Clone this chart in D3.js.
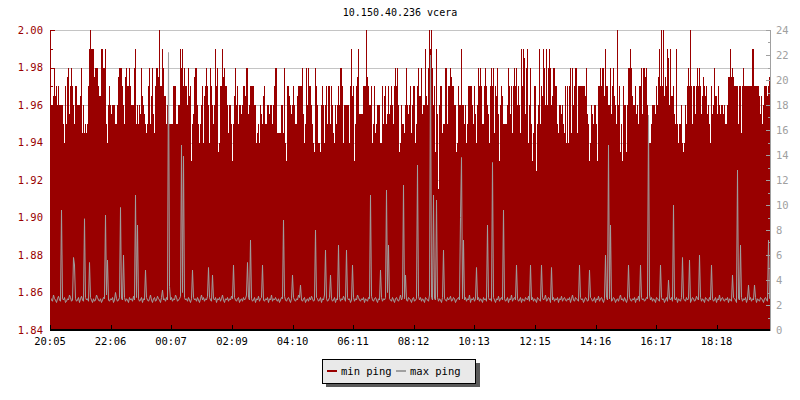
<!DOCTYPE html>
<html>
<head>
<meta charset="utf-8">
<script src="https://cdn.jsdelivr.net/npm/d3@7"></script>
<style>
  body { margin: 0; background: #fff; }
  svg { display: block; font-family: "DejaVu Sans Mono", monospace; }
</style>
</head>
<body>
<svg id="plot"></svg>
<script>
// chart text
const title = "10.150.40.236 vcera";
const seriesNames = ["min ping", "max ping"];

// x axis: minutes after 20:05, one sample every 2 minutes
const tickLabels = ["20:05", "22:06", "00:07", "02:09", "04:10", "06:11", "08:12", "10:13", "12:15", "14:16", "16:17", "18:18"];
const tickMinutes = [0, 121, 242, 364, 485, 606, 727, 848, 970, 1091, 1212, 1333];
const stepMinutes = 2;
const spanMinutes = 1440;

// left axis (min ping) and right axis (max ping) ticks
const leftTicks = [1.84, 1.86, 1.88, 1.9, 1.92, 1.94, 1.96, 1.98, 2.0];
const leftMinorTicks = [1.85, 1.87, 1.89, 1.91, 1.93, 1.95, 1.97, 1.99];
const rightTicks = [0, 2, 4, 6, 8, 10, 12, 14, 16, 18, 20, 22, 24];
const rightMinorTicks = [1, 3, 5, 7, 9, 11, 13, 15, 17, 19, 21, 23];

// min ping (left axis)
const minPing = [
  1.96,1.96,1.96,1.965,1.98,1.965,1.97,1.96,1.97,1.96,1.96,1.96,1.96,1.95,1.94,1.97,1.95,1.975,1.98,1.955,
  1.97,1.98,1.97,1.96,1.95,1.97,1.97,1.96,1.96,1.96,1.965,1.98,1.945,1.96,1.945,1.95,1.945,1.95,1.97,1.99,
  2.00,1.99,1.99,1.99,1.975,1.98,1.98,1.98,1.97,1.965,1.965,1.99,1.99,1.98,1.98,1.99,1.95,1.94,1.96,1.97,
  1.96,1.955,1.96,1.96,1.96,1.95,1.95,1.96,1.975,1.98,1.98,1.98,1.97,1.96,1.95,1.975,1.98,1.97,1.97,1.98,
  1.97,1.96,1.96,1.96,1.98,1.99,1.95,1.96,1.95,1.96,1.955,1.98,1.965,1.96,1.955,1.95,1.945,1.95,1.97,1.98,
  1.95,1.965,1.98,1.955,1.945,1.97,1.98,1.98,1.975,2.00,1.97,1.97,1.99,1.98,1.965,1.965,1.95,1.96,1.95,1.95,
  1.95,1.95,1.95,1.97,1.97,1.97,1.95,1.95,1.96,1.96,1.99,1.98,1.99,1.97,1.98,1.97,1.97,1.96,1.98,1.965,
  1.97,1.93,1.95,1.955,1.975,1.98,1.98,1.96,1.95,1.94,1.95,1.96,1.97,1.94,1.965,1.97,1.98,1.97,1.96,1.94,
  1.98,1.97,1.96,1.95,1.96,1.99,1.97,1.98,1.935,1.94,1.97,1.97,1.99,1.975,1.98,1.97,1.97,1.96,1.945,1.96,
  1.96,1.95,1.93,1.95,1.965,1.98,1.96,1.97,1.95,1.96,1.96,1.955,1.96,1.97,1.97,1.965,1.98,1.98,1.955,1.96,
  1.97,1.97,1.97,1.97,1.96,1.96,1.94,1.945,1.95,1.94,1.96,1.955,1.95,1.965,1.97,1.95,1.95,1.96,1.96,1.955,
  1.96,1.96,1.95,1.96,1.97,1.98,1.98,1.945,1.945,1.945,1.945,1.96,1.96,1.945,1.98,1.94,1.93,1.97,
  1.97,1.965,1.96,1.955,1.96,1.97,1.96,1.95,1.95,1.965,1.97,1.97,1.97,1.97,1.98,1.955,1.94,1.95,1.98,1.96,
  1.98,1.97,1.97,1.96,1.95,1.94,1.935,1.98,1.97,1.96,1.94,1.94,1.935,1.96,1.97,1.96,1.94,1.96,1.97,1.95,
  1.97,1.97,1.95,1.97,1.96,1.945,1.94,1.96,1.95,1.96,1.97,1.96,1.98,1.98,1.97,1.94,1.96,1.96,1.96,1.96,
  1.96,1.94,1.97,1.99,1.965,1.97,1.93,1.95,1.97,1.975,1.99,1.955,1.955,1.955,1.955,1.97,1.97,1.97,2.00,1.975,
  1.97,1.96,1.96,1.97,1.94,1.95,1.97,1.945,1.95,1.96,1.96,1.96,1.94,1.94,1.97,1.95,1.965,1.97,1.95,1.955,
  1.97,1.955,1.96,1.97,1.96,1.95,1.97,1.98,1.97,1.98,1.96,1.935,1.94,1.96,1.95,1.95,1.945,1.96,1.98,1.96,
  1.955,1.96,1.97,1.945,1.96,1.97,1.97,1.94,1.95,1.97,1.98,1.965,1.965,1.98,1.955,1.96,1.96,1.99,1.965,1.96,
  1.98,2.00,1.99,2.00,1.98,1.96,1.97,1.935,1.99,1.955,1.915,1.96,1.97,1.97,1.945,1.95,1.95,1.98,1.98,1.95,
  1.97,1.97,1.98,1.975,1.97,1.97,1.96,1.96,1.935,1.94,1.97,1.96,1.96,1.99,1.96,1.96,1.95,1.96,1.94,1.95,
  1.97,1.97,1.97,1.97,1.96,1.95,1.97,1.955,1.94,1.96,1.98,1.97,1.98,1.97,1.95,1.95,1.97,1.98,1.97,1.96,
  1.955,1.94,1.97,1.98,1.97,1.98,1.945,1.97,1.965,1.98,1.955,1.93,1.96,1.97,1.965,1.95,1.95,1.95,1.95,1.96,
  1.98,1.97,1.955,1.97,1.945,1.97,1.98,1.97,1.98,1.96,1.97,1.96,1.945,1.99,1.97,1.99,1.985,1.955,1.98,1.99,1.94,1.96,
  1.98,1.95,1.93,1.945,1.97,1.97,1.925,1.95,1.96,1.99,1.95,1.97,1.965,1.99,1.98,1.96,1.99,1.96,1.98,1.99,
  1.98,1.96,1.965,1.98,1.98,1.97,1.97,1.95,1.945,1.96,1.96,1.955,1.96,1.95,1.945,1.97,1.94,1.97,1.94,1.97,
  1.98,1.945,1.98,1.96,1.97,1.98,1.98,1.945,1.97,1.97,1.97,1.97,1.97,1.97,1.97,1.965,1.98,1.955,1.95,1.93,
  1.94,1.96,1.955,1.95,1.96,1.96,1.95,1.93,1.97,1.97,1.98,1.97,1.98,1.98,1.965,1.99,1.97,1.97,1.96,1.96,
  1.98,1.955,1.97,1.98,1.965,1.96,1.95,2.00,1.96,1.97,1.935,1.95,1.93,1.97,1.96,1.96,1.935,1.96,1.98,1.98,
  1.99,1.98,1.965,1.96,1.96,1.97,1.955,1.96,1.95,1.97,1.97,1.98,1.955,1.98,1.98,1.975,1.98,1.96,1.94,1.94,
  1.94,1.95,1.96,1.96,1.96,1.955,1.97,1.96,1.975,1.99,1.97,2.00,1.97,2.00,1.965,1.975,1.97,1.99,1.985,1.96,
  1.99,1.965,1.965,1.97,1.955,1.95,1.99,1.95,1.94,1.95,1.95,1.96,1.94,1.935,1.94,1.96,1.95,1.97,1.98,1.97,
  2.00,1.97,1.95,1.97,1.97,1.955,1.97,1.98,1.97,1.98,1.97,1.955,1.965,1.975,1.97,1.965,1.97,1.955,1.96,1.95,
  1.94,1.97,1.955,1.96,1.98,1.965,1.965,1.955,1.97,1.96,1.955,1.96,1.96,1.955,1.96,1.95,1.95,1.96,1.975,1.975,
  1.99,1.975,1.98,1.975,1.97,1.97,1.97,1.97,1.95,1.97,1.97,1.945,1.97,1.98,1.97,1.97,1.97,1.97,1.97,1.97,
  1.97,1.97,1.99,1.99,1.97,1.97,1.97,1.97,1.97,1.965,1.955,1.965,1.95,1.96,1.97,1.97,1.97,1.965,1.97,1.975
];

// max ping (right axis)
const maxPing = [
  2.6,2.4,2.3,2.8,2.5,2.4,2.2,2.5,2.7,2.4,2.3,9.6,2.5,2.4,2.6,2.2,2.3,2.5,2.4,2.8,2.6,2.3,2.4,5.8,
  5.2,2.5,2.3,2.4,2.6,2.2,2.5,2.7,2.4,2.3,8.9,2.6,2.4,2.5,2.3,5.4,2.6,2.4,2.2,2.5,2.3,2.4,2.8,2.6,
  2.4,2.3,2.5,2.2,2.4,2.6,2.5,9.2,2.8,5.6,2.4,2.3,2.5,2.4,2.6,2.2,2.4,3.0,2.5,2.3,2.4,2.6,9.8,2.5,
  2.4,6.0,2.6,2.3,2.5,2.4,2.2,2.6,2.4,2.5,2.3,2.7,2.4,10.8,2.6,8.4,2.5,2.3,2.4,2.6,2.2,2.5,2.4,4.8,
  2.6,2.4,2.3,2.5,2.8,2.4,2.2,2.5,2.6,2.3,2.4,2.7,2.5,2.4,2.2,2.6,3.2,2.4,2.5,2.3,2.6,2.4,22.2,3.5,
  2.4,2.6,2.3,2.5,2.4,2.8,2.6,2.3,2.4,2.5,2.7,14.8,3.0,13.9,2.6,2.4,2.5,2.3,2.6,2.4,2.2,2.5,4.8,2.6,
  2.4,2.5,2.3,2.6,2.4,2.2,2.5,2.8,2.4,2.6,2.3,2.5,2.4,2.7,5.0,2.6,2.4,2.3,4.4,2.5,2.4,2.6,2.2,2.5,
  2.4,2.6,2.3,2.5,2.8,2.4,2.2,2.5,2.4,2.6,2.3,2.5,2.4,2.7,2.5,5.2,2.6,2.4,2.3,2.5,2.6,2.2,2.4,2.5,
  2.3,2.6,2.4,2.5,2.8,5.4,2.6,2.4,7.2,2.5,2.3,2.4,2.6,2.2,2.5,2.4,2.7,2.3,2.5,2.6,5.2,2.4,2.3,2.5,
  2.4,2.6,2.2,2.5,2.4,2.8,2.3,2.5,2.4,2.6,2.4,2.3,2.5,2.2,2.4,2.6,2.5,8.8,2.7,2.4,2.3,2.5,2.6,2.4,
  2.2,2.5,4.4,2.6,2.4,2.3,2.5,2.4,2.8,2.6,3.6,2.4,2.3,2.5,2.6,2.2,2.4,2.5,2.3,2.6,2.4,2.7,2.5,2.3,
  2.4,8.0,2.6,2.5,2.3,2.4,2.6,2.2,2.5,2.4,2.8,6.4,2.5,2.3,2.4,2.6,4.4,2.5,2.3,2.4,2.6,2.2,2.5,2.4,
  6.8,2.6,2.3,2.5,2.4,2.7,2.5,2.3,6.4,2.6,2.4,2.5,2.2,2.4,5.2,2.6,2.3,2.5,2.4,2.8,2.6,2.4,2.3,2.5,
  2.4,2.6,2.2,2.5,2.4,2.3,2.6,2.5,10.8,2.7,2.4,2.3,2.5,2.6,2.4,2.2,2.5,2.4,4.8,2.6,2.3,2.5,2.4,2.6,
  11.2,3.0,6.8,2.5,2.4,2.3,2.6,2.4,2.2,2.5,2.6,2.4,2.3,2.5,2.8,2.4,2.6,11.6,2.5,4.4,2.4,2.3,2.6,2.5,
  2.4,2.2,2.5,2.6,2.3,2.4,2.5,13.2,2.7,2.4,2.6,2.3,2.5,2.4,2.2,2.6,2.5,2.4,2.3,2.8,22.0,2.6,2.4,10.8,
  2.5,2.4,10.4,2.6,2.3,2.5,2.4,2.2,2.6,6.4,2.5,2.4,2.3,2.6,2.4,2.5,2.7,2.3,2.4,2.6,2.5,2.2,2.4,2.5,
  2.6,2.4,9.0,13.8,2.5,7.2,2.4,2.6,2.3,2.5,2.4,2.8,2.2,2.5,2.4,2.6,2.3,2.5,5.0,2.4,2.6,2.3,2.5,2.4,
  2.2,2.6,2.4,2.5,2.3,8.4,2.6,2.4,2.5,2.3,13.4,2.6,2.4,2.2,2.5,2.4,2.7,2.3,2.5,2.6,2.4,9.6,2.5,2.3,
  2.4,2.6,2.2,2.5,2.4,2.8,2.3,2.5,2.6,2.4,5.2,2.5,2.3,2.4,2.6,2.2,2.5,2.4,2.3,2.6,2.5,2.4,2.7,2.3,
  5.2,2.4,2.6,2.3,2.5,2.4,2.2,2.6,2.5,2.4,2.3,5.2,2.6,2.4,2.5,2.8,2.3,2.4,2.6,2.5,2.2,5.0,2.4,2.6,
  2.3,2.5,2.4,2.6,2.2,2.5,2.4,2.7,2.3,2.5,2.6,2.4,2.3,2.5,2.4,2.6,2.2,2.5,2.8,2.4,2.3,2.6,2.5,2.4,
  2.3,5.2,2.6,2.4,2.5,2.2,2.4,2.6,2.5,2.3,2.4,4.8,2.6,2.5,2.3,2.4,2.6,2.2,2.5,2.4,2.7,2.3,2.5,2.6,
  2.4,2.2,2.5,6.0,2.6,2.4,14.8,2.5,8.4,2.3,2.4,2.6,2.5,2.2,2.4,2.5,2.3,2.6,2.8,2.4,2.5,2.3,2.6,2.4,
  2.2,2.5,5.2,2.6,2.4,2.3,2.5,2.4,2.6,2.2,2.5,2.4,2.7,2.3,5.2,2.6,2.4,2.5,2.3,2.4,2.6,2.5,17.2,2.8,
  2.4,2.6,2.3,2.5,2.4,2.2,2.6,2.5,2.4,2.3,5.2,2.6,2.4,2.5,2.2,2.4,2.6,2.3,4.0,2.5,2.4,2.6,2.3,10.0,
  2.5,2.4,2.6,2.2,2.5,2.4,2.3,2.6,5.8,2.5,2.4,2.3,2.6,2.4,2.5,5.6,2.2,2.4,2.6,2.5,2.3,2.4,2.7,2.5,
  2.4,6.0,2.6,2.3,2.5,2.4,2.2,2.6,2.5,2.4,2.3,2.6,2.4,5.2,2.5,2.3,2.4,2.6,2.2,2.5,2.4,2.8,2.3,2.5,
  2.6,2.4,2.3,2.5,2.4,2.6,2.2,2.5,2.4,2.3,4.4,2.6,2.5,2.4,2.2,12.8,2.5,2.4,6.8,2.6,2.3,2.5,2.4,2.6,
  2.2,2.5,3.6,2.4,2.6,2.3,2.5,2.4,3.6,2.6,2.2,2.5,2.4,2.3,2.6,2.5,2.4,2.2,2.5,2.6,2.4,2.3,7.2,2.5
];

const red = "#990000";
const grey = "#a0a0a0";

const margin = { top: 30, right: 30, bottom: 70, left: 50 };
const width = 800 - margin.left - margin.right;
const height = 400 - margin.top - margin.bottom;

const root = d3.select("#plot").attr("width", 800).attr("height", 400);
root.append("rect").attr("width", 800).attr("height", 400).attr("fill", "#fff");

root
  .append("text")
  .attr("x", 400)
  .attr("y", 16)
  .attr("text-anchor", "middle")
  .attr("font-size", 10)
  .attr("fill", "#000")
  .text(title);

const svg = root
  .append("g")
  .attr("transform", `translate(${margin.left},${margin.top})`);

// scales
const xScale = d3.scaleLinear().domain([0, spanMinutes]).range([0, width]);
const yLeft = d3.scaleLinear().domain([1.84, 2.0]).range([height, 0]);
const yRight = d3.scaleLinear().domain([0, 24]).range([height, 0]);

// grid
svg
  .selectAll(".grid")
  .data(leftTicks)
  .enter()
  .append("line")
  .attr("class", "grid")
  .attr("x1", 0)
  .attr("x2", width)
  .attr("y1", (d) => Math.round(yLeft(d)) + 0.5)
  .attr("y2", (d) => Math.round(yLeft(d)) + 0.5)
  .attr("stroke", "#c4c4c4");

// min ping area, one column per sample
const minPoints = minPing.map((v, i) => ({ t: i * stepMinutes, v }));
minPoints.push({ t: minPing.length * stepMinutes, v: minPing[minPing.length - 1] });

const area = d3
  .area()
  .x((d) => xScale(d.t))
  .y0(height)
  .y1((d) => yLeft(d.v))
  .curve(d3.curveStepAfter);

svg
  .append("path")
  .datum(minPoints)
  .attr("d", area)
  .attr("fill", red)
  .attr("shape-rendering", "crispEdges");

// max ping line, drawn over the area
const line = d3
  .line()
  .x((d, i) => xScale(i * stepMinutes) + 0.5)
  .y((d) => yRight(d));

svg
  .append("path")
  .datum(maxPing)
  .attr("d", line)
  .attr("fill", "none")
  .attr("stroke", grey)
  .attr("stroke-width", 1);

// left axis
const leftAxis = svg.append("g").attr("class", "left-axis");
leftAxis
  .append("line")
  .attr("x1", 0.5)
  .attr("x2", 0.5)
  .attr("y1", 0)
  .attr("y2", height)
  .attr("stroke", red);
leftAxis
  .selectAll(".major")
  .data(leftTicks)
  .enter()
  .append("line")
  .attr("x1", 0)
  .attr("x2", 5)
  .attr("y1", (d) => Math.round(yLeft(d)) + 0.5)
  .attr("y2", (d) => Math.round(yLeft(d)) + 0.5)
  .attr("stroke", red);
leftAxis
  .selectAll(".minor")
  .data(leftMinorTicks)
  .enter()
  .append("line")
  .attr("x1", 0)
  .attr("x2", 3)
  .attr("y1", (d) => Math.round(yLeft(d)) + 0.5)
  .attr("y2", (d) => Math.round(yLeft(d)) + 0.5)
  .attr("stroke", red);
leftAxis
  .selectAll("text")
  .data(leftTicks)
  .enter()
  .append("text")
  .attr("x", -7)
  .attr("y", (d) => yLeft(d))
  .attr("dy", "0.36em")
  .attr("text-anchor", "end")
  .attr("font-size", 10.5)
  .attr("fill", red)
  .text((d) => d.toFixed(2));

// right axis
const rightAxis = svg.append("g").attr("transform", `translate(${width},0)`);
rightAxis
  .append("line")
  .attr("x1", 0.5)
  .attr("x2", 0.5)
  .attr("y1", 0)
  .attr("y2", height)
  .attr("stroke", grey);
rightAxis
  .selectAll(".major")
  .data(rightTicks)
  .enter()
  .append("line")
  .attr("x1", -4)
  .attr("x2", 1)
  .attr("y1", (d) => Math.round(yRight(d)) + 0.5)
  .attr("y2", (d) => Math.round(yRight(d)) + 0.5)
  .attr("stroke", grey);
rightAxis
  .selectAll(".minor")
  .data(rightMinorTicks)
  .enter()
  .append("line")
  .attr("x1", -2)
  .attr("x2", 1)
  .attr("y1", (d) => Math.round(yRight(d)) + 0.5)
  .attr("y2", (d) => Math.round(yRight(d)) + 0.5)
  .attr("stroke", grey);
rightAxis
  .selectAll("text")
  .data(rightTicks)
  .enter()
  .append("text")
  .attr("x", 6)
  .attr("y", (d) => yRight(d))
  .attr("dy", "0.36em")
  .attr("font-size", 10.5)
  .attr("fill", grey)
  .text((d) => d);

// bottom axis
const bottomAxis = svg.append("g").attr("transform", `translate(0,${height})`);
bottomAxis
  .append("line")
  .attr("x1", 0)
  .attr("x2", width)
  .attr("y1", 0)
  .attr("y2", 0)
  .attr("stroke", "#000")
  .attr("stroke-width", 2);
bottomAxis
  .selectAll(".tick")
  .data(tickMinutes)
  .enter()
  .append("line")
  .attr("x1", (d) => Math.round(xScale(d)) + 0.5)
  .attr("x2", (d) => Math.round(xScale(d)) + 0.5)
  .attr("y1", -5)
  .attr("y2", 0)
  .attr("stroke", "#000");
bottomAxis
  .selectAll("text")
  .data(tickMinutes)
  .enter()
  .append("text")
  .attr("x", (d) => xScale(d))
  .attr("y", 15)
  .attr("text-anchor", "middle")
  .attr("font-size", 10.5)
  .attr("fill", "#000")
  .text((d, i) => tickLabels[i]);

// legend
const legend = root.append("g").attr("transform", "translate(322,359)");
legend
  .append("rect")
  .attr("x", 4)
  .attr("y", 4)
  .attr("width", 154)
  .attr("height", 24)
  .attr("fill", "#5a5a5a");
legend
  .append("rect")
  .attr("x", 0.5)
  .attr("y", 0.5)
  .attr("width", 153)
  .attr("height", 24)
  .attr("fill", "#e9e9e9")
  .attr("stroke", "#000");
const swatches = [red, grey];
const legendX = [5, 74];
seriesNames.forEach((name, i) => {
  legend
    .append("rect")
    .attr("x", legendX[i])
    .attr("y", 11)
    .attr("width", 10)
    .attr("height", 2)
    .attr("fill", swatches[i]);
  legend
    .append("text")
    .attr("x", legendX[i] + 14)
    .attr("y", 16)
    .attr("font-size", 10.5)
    .attr("fill", "#000")
    .text(name);
});
</script>
</body>
</html>
